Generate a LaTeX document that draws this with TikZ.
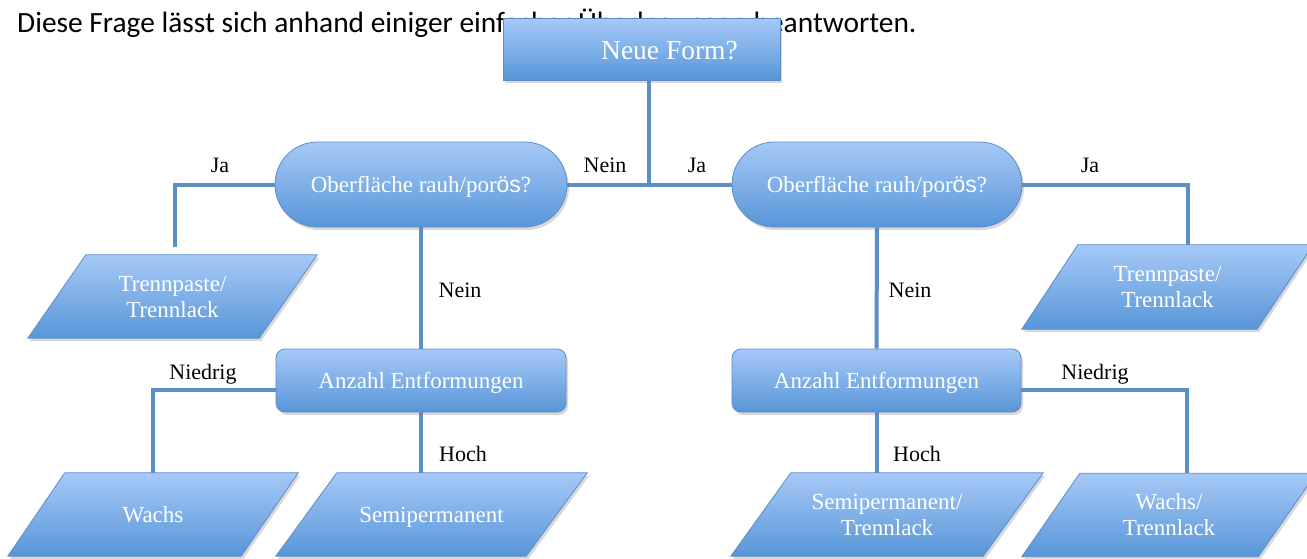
\documentclass[tikz,border=0pt]{standalone}
\usepackage{fontspec}
\setmainfont{Liberation Serif}
\newfontfamily\headfont{Carlito}
\newfontfamily\sansos{Liberation Sans}
\usetikzlibrary{shapes.misc,shadows,backgrounds}
\definecolor{boxtop}{RGB}{166,201,247}
\definecolor{boxbot}{RGB}{88,150,216}
\definecolor{boxline}{RGB}{92,140,200}
\definecolor{linkcol}{RGB}{92,142,200}
\newcommand\parashape[2]{%
  \path[parafill] ([xshift=#2pt]#1.north west) -- (#1.north east)
    -- ([xshift=-#2pt]#1.south east) -- (#1.south west) -- cycle;}
\begin{document}
\begin{tikzpicture}[x=1pt,y=-1pt,
  fillstyle/.style={draw=boxline, line width=0.8pt, top color=boxtop, bottom color=boxbot,
    drop shadow={opacity=0.3, shadow xshift=2pt, shadow yshift=-3pt}},
  base/.style={fillstyle, text=white, font=\fontsize{23}{26}\selectfont, align=center,
    inner sep=0pt, text depth=0pt},
  rectbox/.style={base, rectangle, minimum width=277pt, minimum height=62pt},
  roundbox/.style={base, rectangle, rounded corners=9pt, minimum width=290pt, minimum height=63pt},
  pill/.style={base, rounded rectangle, minimum width=292pt, minimum height=85pt},
  parafill/.style={fillstyle},
  parabox/.style={rectangle, text=white, font=\fontsize{23}{26}\selectfont, align=center,
    inner sep=0pt, minimum height=83pt, text depth=0pt},
  link/.style={draw=linkcol, line width=4pt},
  lab/.style={font=\fontsize{22}{24}\selectfont, anchor=base, inner sep=0pt}
]
\useasboundingbox (0,0) rectangle (1307,558);
\begin{scope}[on background layer]
  \fill[white] (0,0) rectangle (1307,558);
\end{scope}
\clip (0,0) rectangle (1307,558);

% header sentence (partly hidden by the top box)
\node[anchor=base west, inner sep=0pt, font=\headfont\fontsize{29.4}{34}\selectfont] (head) at (17,32)
  {Diese Frage lässt sich anhand einiger einfacher Überlegungen beantworten.};

% decision and process nodes
\node[rectbox, font=\fontsize{27.5}{30}\selectfont] (neue) at (641.5,49) {\hspace*{56pt}\raisebox{-2pt}{Neue Form?}};
\node[pill] (o1) at (421,184.5) {Oberfläche rauh/por{\sansos\fontsize{23}{24}\selectfont ös}?};
\node[pill, minimum width=290pt] (o2) at (877,184.5) {Oberfläche rauh/por{\sansos\fontsize{23}{24}\selectfont ös}?};
\node[roundbox] (a1) at (421,380.5) {Anzahl Entformungen};
\node[roundbox, minimum width=289pt] (a2) at (876.5,380.5) {Anzahl Entformungen};

% parallelogram (data) nodes: frame node + drawn shape behind the text
\node[parabox, minimum width=289pt] (p1) at (172.5,296.5) {};
\node[parabox, minimum width=291pt, minimum height=84pt] (p2) at (1167.5,287) {};
\node[parabox, minimum width=290pt] (p3) at (153,514.5) {};
\node[parabox, minimum width=311pt] (p4) at (431.5,514.5) {};
\node[parabox, minimum width=312pt] (p5) at (887,514.5) {};
\node[parabox, minimum width=294pt] (p6) at (1169,515) {};
\parashape{p1}{58}
\parashape{p2}{56}
\parashape{p3}{57}
\parashape{p4}{61}
\parashape{p5}{60}
\parashape{p6}{58}
\node[parabox] at (p1) {Trennpaste/\\Trennlack};
\node[parabox] at (p2) {Trennpaste/\\Trennlack};
\node[parabox] at (p3) {Wachs};
\node[parabox] at (p4) {Semipermanent};
\node[parabox] at (p5) {Semipermanent/\\Trennlack};
\node[parabox] at (p6) {Wachs/\\Trennlack};

% connectors
\coordinate (J) at (649,184.5);
\coordinate (jaL) at (175,247);
\begin{scope}[on background layer]
  \draw[link] (o1.east) -- (o2.west);
  \draw[link] (neue.south -| J) -- (J);
  \draw[link] (o1.west) -| (jaL);
  \draw[link] (o1.south) -- (a1.north);
  \draw[link] ([yshift=-9pt]a1.west) -| (p3.north);
  \draw[link] (a1.south) -- (a1.south |- p4.north);
  \draw[link] (o2.east) -| ([xshift=20pt]p2.north);
  \draw[link] (o2.south) -- (a2.north);
  \draw[link] (a2.south) -- (a2.south |- p5.north);
  \draw[link] ([yshift=-9pt]a2.east) -| ([xshift=18pt]p6.north);
\end{scope}

% labels
\node[lab] (l1) at (220,172) {Ja};
\node[lab] (l2) at (605,172) {Nein};
\node[lab] (l3) at (697,172) {Ja};
\node[lab] (l4) at (1090,172) {Ja};
\node[lab] (l5) at (460,297) {Nein};
\node[lab] (l6) at (910,297) {Nein};
\node[lab] (l7) at (203,379) {Niedrig};
\node[lab] (l8) at (1095,379) {Niedrig};
\node[lab] (l9) at (463,461) {Hoch};
\node[lab] (l10) at (917,461) {Hoch};
\end{tikzpicture}
\end{document}
